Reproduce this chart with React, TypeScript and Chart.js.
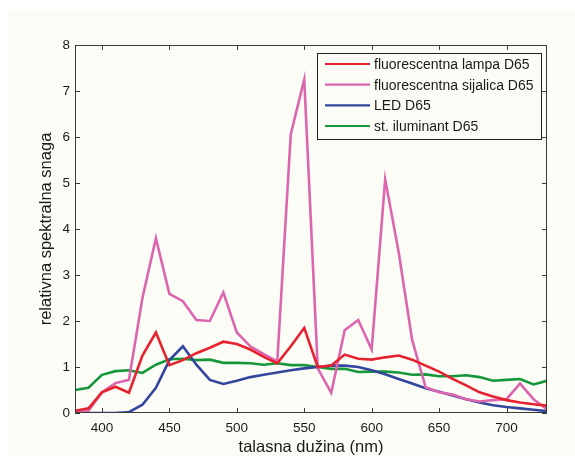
import React, { useEffect, useRef } from "react";
import { Chart, registerables } from "chart.js";

Chart.register(...registerables);

const wavelengths = [380, 390, 400, 410, 420, 430, 440, 450, 460, 470, 480, 490, 500, 510, 520, 530, 540, 550, 560, 570, 580, 590, 600, 610, 620, 630, 640, 650, 660, 670, 680, 690, 700, 710, 720, 730];

const fluorescentLamp = [0.05, 0.1, 0.45, 0.57, 0.44, 1.25, 1.75, 1.04, 1.15, 1.3, 1.42, 1.55, 1.5, 1.38, 1.22, 1.08, 1.45, 1.85, 1.0, 1.03, 1.27, 1.18, 1.16, 1.21, 1.25, 1.16, 1.03, 0.9, 0.74, 0.6, 0.45, 0.36, 0.28, 0.23, 0.19, 0.16];

const fluorescentBulb = [0.02, 0.05, 0.45, 0.65, 0.72, 2.5, 3.8, 2.59, 2.43, 2.02, 2.0, 2.62, 1.75, 1.45, 1.28, 1.12, 6.06, 7.25, 0.97, 0.44, 1.8, 2.02, 1.38, 5.08, 3.5, 1.59, 0.56, 0.45, 0.4, 0.3, 0.25, 0.28, 0.3, 0.64, 0.3, 0.08];

const ledD65 = [0, 0, 0, 0, 0.02, 0.18, 0.55, 1.15, 1.45, 1.05, 0.72, 0.63, 0.7, 0.78, 0.83, 0.88, 0.93, 0.97, 1.0, 1.03, 1.03, 1.0, 0.93, 0.84, 0.74, 0.64, 0.54, 0.46, 0.38, 0.3, 0.23, 0.17, 0.13, 0.1, 0.07, 0.04];

const standardD65 = [0.5, 0.55, 0.83, 0.91, 0.93, 0.87, 1.05, 1.17, 1.18, 1.15, 1.16, 1.09, 1.09, 1.08, 1.05, 1.08, 1.04, 1.04, 1.0, 0.96, 0.96, 0.89, 0.9, 0.9, 0.88, 0.83, 0.84, 0.8, 0.8, 0.82, 0.78, 0.7, 0.72, 0.74, 0.62, 0.7];

const seriesLabels = ["fluorescentna lampa D65", "fluorescentna sijalica D65", "LED D65", "st. iluminant D65"];
const seriesColors = ["#e6222e", "#dc66ad", "#33469e", "#16973a"];
const xTicks = [400, 450, 500, 550, 600, 650, 700];
const yTicks = [0, 1, 2, 3, 4, 5, 6, 7, 8];
const xTitle = "talasna dužina (nm)";
const yTitle = "relativna spektralna snaga";

const FONT = "'Liberation Sans', Arial, Helvetica, sans-serif";
const BG = "#fcfcf7";
const AX = "#3a3a3a";

const bgPlugin = {
  id: "bgPlugin",
  beforeDraw(chart: any) {
    const ctx = chart.ctx;
    ctx.save();
    ctx.fillStyle = "#ffffff";
    ctx.fillRect(0, 0, chart.width, chart.height);
    ctx.fillStyle = BG;
    ctx.fillRect(8, 10, chart.width - 8, chart.height - 10);
    ctx.restore();
  },
};

const framePlugin = {
  id: "framePlugin",
  afterDraw(chart: any) {
    const ctx = chart.ctx;
    const a = chart.chartArea;
    const xs = chart.scales.x;
    const ys = chart.scales.y;
    ctx.save();
    ctx.strokeStyle = AX;
    ctx.lineWidth = 1;
    ctx.beginPath();
    ctx.rect(Math.round(a.left) + 0.5, Math.round(a.top) + 0.5, Math.round(a.right - a.left) - 1, Math.round(a.bottom - a.top) - 1);
    ctx.stroke();
    const tl = 5;
    ctx.beginPath();
    xTicks.forEach((v) => {
      const px = Math.round(xs.getPixelForValue(v)) + 0.5;
      ctx.moveTo(px, a.bottom);
      ctx.lineTo(px, a.bottom - tl);
      ctx.moveTo(px, a.top);
      ctx.lineTo(px, a.top + tl);
    });
    yTicks.forEach((v) => {
      const py = Math.round(ys.getPixelForValue(v)) + 0.5;
      ctx.moveTo(a.left, py);
      ctx.lineTo(a.left + tl, py);
      ctx.moveTo(a.right, py);
      ctx.lineTo(a.right - tl, py);
    });
    ctx.stroke();

    // axis titles
    ctx.fillStyle = "#1a1a1a";
    ctx.font = `16.5px ${FONT}`;
    ctx.textAlign = "center";
    ctx.textBaseline = "middle";
    ctx.fillText(xTitle, (a.left + a.right) / 2, 447);
    ctx.save();
    ctx.translate(46, (a.top + a.bottom) / 2);
    ctx.rotate(-Math.PI / 2);
    ctx.fillText(yTitle, 0, 0);
    ctx.restore();

    // legend
    const lx = 317, ly = 53, lw = 224, lh = 86;
    ctx.fillStyle = BG;
    ctx.fillRect(lx, ly, lw, lh);
    ctx.strokeStyle = "#222";
    ctx.lineWidth = 1;
    ctx.strokeRect(lx + 0.5, ly + 0.5, lw, lh);
    ctx.font = `14px ${FONT}`;
    ctx.textAlign = "left";
    seriesLabels.forEach((lab, i) => {
      const y = 64 + i * 20.67;
      ctx.strokeStyle = seriesColors[i];
      ctx.lineWidth = 2.2;
      ctx.beginPath();
      ctx.moveTo(325, y);
      ctx.lineTo(370, y);
      ctx.stroke();
      ctx.fillStyle = "#1a1a1a";
      ctx.fillText(lab, 374, y + 1);
    });
    ctx.restore();
  },
};

export default function App() {
  const ref = useRef<HTMLCanvasElement>(null);
  useEffect(() => {
    if (!ref.current) return;
    const allSeries = [fluorescentLamp, fluorescentBulb, ledD65, standardD65];
    const chart = new Chart(ref.current, {
      type: "line",
      data: {
        datasets: allSeries.map((s, i) => ({
          label: seriesLabels[i],
          data: wavelengths.map((w, j) => ({ x: w, y: s[j] })),
          borderColor: seriesColors[i],
          backgroundColor: seriesColors[i],
          borderWidth: 2.6,
          pointRadius: 0,
          tension: 0,
          fill: false,
        })),
      },
      options: {
        animation: false,
        responsive: false,
        devicePixelRatio: 1,
        layout: { padding: { left: 0, top: 45, right: 28, bottom: 0 } },
        plugins: { legend: { display: false }, tooltip: { enabled: false } },
        scales: {
          x: {
            type: "linear",
            min: 380,
            max: 730,
            grid: { display: false, drawTicks: false },
            border: { display: false },
            afterBuildTicks: (scale: any) => {
              scale.ticks = xTicks.map((v) => ({ value: v }));
            },
            afterFit: (scale: any) => {
              scale.height = 43;
            },
            ticks: {
              autoSkip: false,
              maxRotation: 0,
              padding: 7,
              color: "#1a1a1a",
              font: { family: FONT, size: 13.5 },
            },
          },
          y: {
            type: "linear",
            min: 0,
            max: 8,
            grid: { display: false, drawTicks: false },
            border: { display: false },
            afterBuildTicks: (scale: any) => {
              scale.ticks = yTicks.map((v) => ({ value: v }));
            },
            afterFit: (scale: any) => {
              scale.width = 75;
            },
            ticks: {
              padding: 5,
              color: "#1a1a1a",
              font: { family: FONT, size: 13.5 },
            },
          },
        },
      },
      plugins: [bgPlugin, framePlugin],
    });
    return () => chart.destroy();
  }, []);
  return (
    <div style={{ position: "fixed", left: 0, top: 0, width: 575, height: 456 }}>
      <canvas ref={ref} width={575} height={456} style={{ width: 575, height: 456, display: "block" }} />
    </div>
  );
}
